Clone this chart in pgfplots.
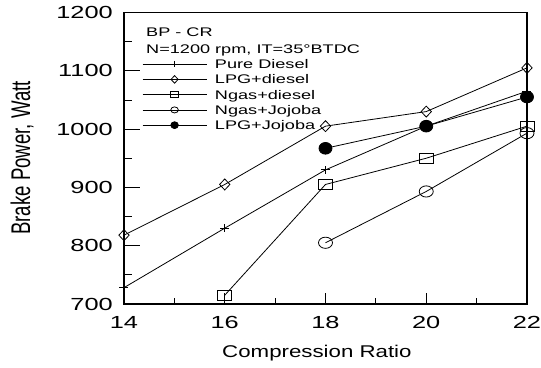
\documentclass[border=0pt]{standalone}
\usepackage{pgfplots}
\pgfplotsset{compat=1.18}
\usepackage{fontspec}
\setmainfont{Liberation Sans}
\newfontfamily\hfont{Liberation Sans}[FakeStretch=1.45]
\newfontfamily\lfont{Liberation Sans}[FakeStretch=1.31]
\newfontfamily\vfont{Liberation Sans}[FakeStretch=0.69]
\begin{document}
\begin{tikzpicture}
\pgfplotsset{commonax/.style={
  scale only axis, width=403pt, height=291.5pt,
  xmin=14, xmax=22, ymin=700, ymax=1200, clip=false}}
\begin{axis}[
  commonax,
  xtick={14,16,18,20,22}, ytick={700,800,900,1000,1100,1200},
  minor x tick num=1, minor y tick num=1,
  xtick pos=left, ytick pos=left,
  tick align=inside, major tick length=16pt, minor tick length=8pt,
  every tick/.style={black, line width=0.8pt},
  xtick style={draw=none},
  axis line style={line width=1.1pt},
  ticklabel style={font=\hfont\fontsize{17.5}{18}\selectfont, inner sep=0pt},
  yticklabel style={xshift=-11pt},
  xticklabel style={yshift=-12pt},
  /pgf/number format/assume math mode=true,
  /pgf/number format/1000 sep={},
  legend cell align=left,
  legend style={at={(axis cs:14.357,1119.4)}, anchor=north west, draw=none, fill=none,
    font=\hfont\fontsize{12.5}{13}\selectfont, row sep=6.25pt, column sep=8pt, inner sep=0pt,
    nodes={inner sep=0pt, text height=9pt, text depth=0pt}},
  legend image code/.code={\draw[mark repeat=2,mark phase=2] plot coordinates {(0pt,0pt) (32pt,0pt) (64pt,0pt)};},
  legend image post style={mark size=3.8pt},
  every axis plot/.append style={black, line width=0.8pt},
]
\addplot[mark=+, mark size=4.5pt, mark options={yscale=0.85}] coordinates {(14,728) (16,830) (18,930) (20,1005) (22,1065)};
\addlegendentry{Pure Diesel}
\addplot[mark=diamond, mark size=5.5pt, mark options={fill=white, xscale=1.25}] coordinates {(14,818) (16,905) (18,1005) (20,1030) (22,1105)};
\addlegendentry{LPG+diesel}
\addplot[mark=square, mark size=7pt, mark options={fill=white, yscale=0.75}] coordinates {(16,715) (18,905) (20,950) (22,1005)};
\addlegendentry{Ngas+diesel}
\addplot[mark=o, mark size=7pt, mark options={fill=white, yscale=0.8}] coordinates {(18,805) (20,893) (22,993)};
\addlegendentry{Ngas+Jojoba}
\addplot[mark=*, mark size=6.5pt, mark options={fill=black, yscale=0.9}] coordinates {(18,967) (20,1005) (22,1055)};
\addlegendentry{LPG+Jojoba}
\node[anchor=west, font=\hfont\fontsize{12.5}{13}\selectfont, inner sep=0pt] at (axis cs:14.437,1166.6) {BP - CR};
\node[anchor=west, font=\hfont\fontsize{12.5}{13}\selectfont, inner sep=0pt] at (axis cs:14.437,1135.7) {N=1200 rpm, IT=35\textdegree BTDC};
\node[font=\lfont\fontsize{17}{18}\selectfont, inner sep=0pt] at (axis cs:17.83,616) {Compression Ratio};
\node[rotate=90, font=\vfont\fontsize{27}{28}\selectfont, inner sep=0pt] at (axis cs:11.975,950.4) {Brake Power, Watt};
\coordinate (bl) at (axis cs:11.5385,590.2);
\coordinate (tr) at (axis cs:22.278,1221.4);
\end{axis}
\begin{axis}[
  commonax,
  axis line style={draw=none},
  xtick={14,16,18,20,22}, ytick=\empty, xticklabels={},
  minor x tick num=1, xtick pos=left,
  tick align=inside, major tick length=11pt, minor tick length=5.5pt,
  every tick/.style={black, line width=0.8pt},
]
\end{axis}
\pgfresetboundingbox
\path[use as bounding box] (bl) rectangle (tr);
\end{tikzpicture}
\end{document}
